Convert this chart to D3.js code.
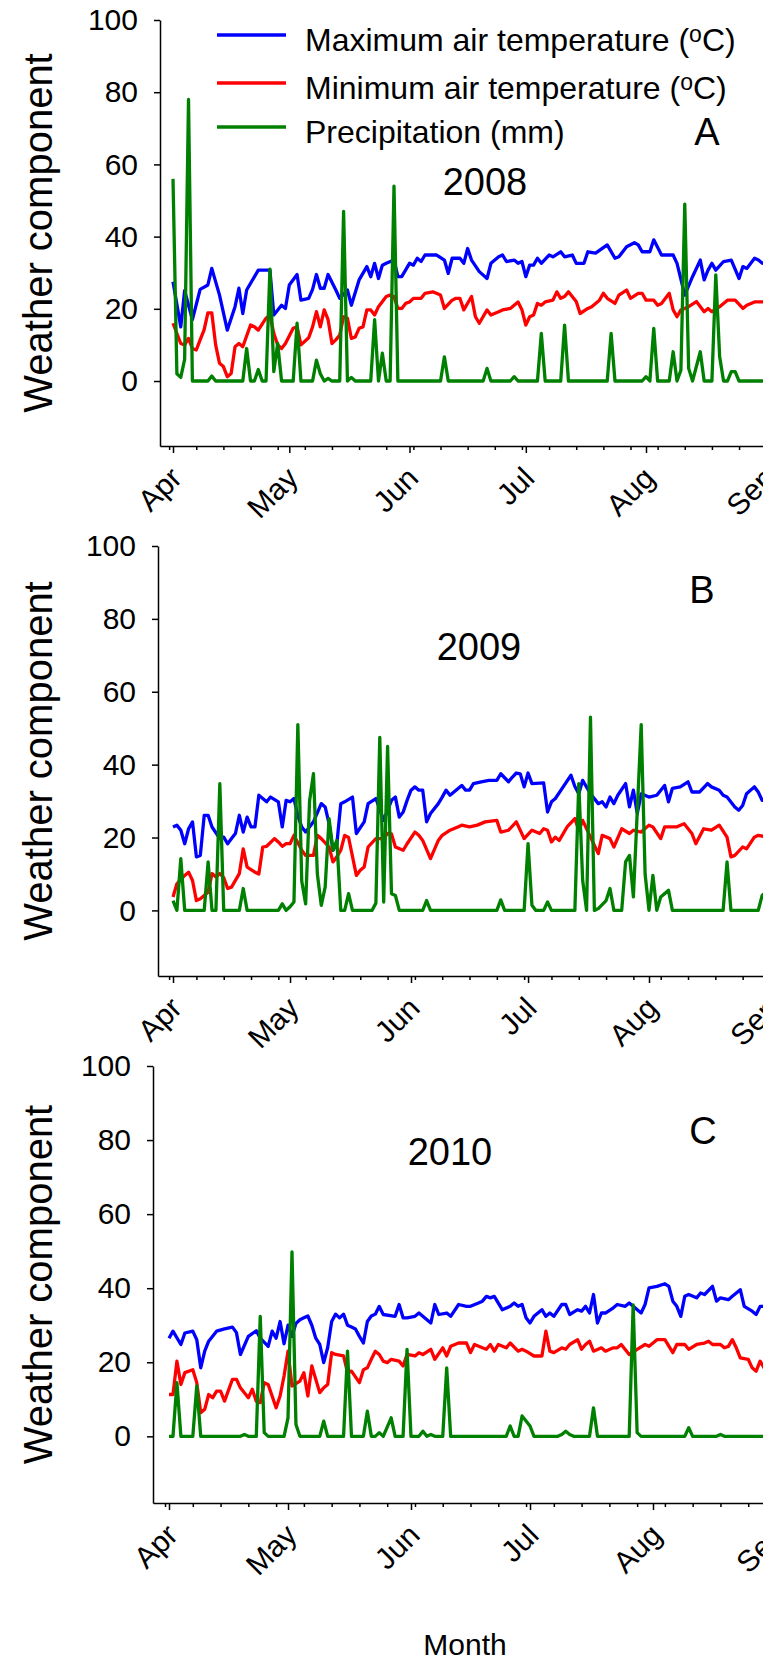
<!DOCTYPE html>
<meta charset="utf-8">
<head>
<script src="https://cdn.jsdelivr.net/npm/d3@7"></script>
<style>
  body { margin: 0; background: #fff; }
  svg { display: block; font-family: "Liberation Sans", Arial, sans-serif; }
  .axis path, .axis line { stroke: #000; stroke-width: 1.5; }
  .axis text { fill: #000; font-size: 30px; }
  .series { fill: none; stroke-width: 3.3; stroke-linejoin: round; }
</style>
</head>
<body>
<div id="chart"></div>
<script>
// values are [day after 1 April, value]
const max2008 = [[0,27.5],[2,15],[3,25],[5,17],[7,25.4],[9,26.6],[10,31.2],[12,23.8],[14,14.1],[16,20.6],[17,25.7],[18,18.7],[19,25.2],[22,30.7],[25,30.7],[26,18.3],[28,21],[29,20.1],[30,26.6],[32,29.5],[33,22.4],[35,22.9],[36,25.4],[37,29.5],[38,25.7],[39,25.7],[40,29.5],[42,25.2],[43,22.9],[45,25.2],[46,21],[48,28],[50,31.7],[51,28.9],[52,32.6],[53,28.4],[54,32.1],[55,32.6],[57,33.5],[58,28.9],[59,28.9],[61,32.6],[62,32.1],[63,34],[64,33.1],[65,34.9],[68,34.9],[70,33.5],[71,29.8],[72,34],[74,34],[75,32.6],[76,36.7],[77,33.5],[79,30.3],[81,28.4],[82,32.6],[84,34.4],[85,34.9],[86,33.1],[88,33.5],[89,32.6],[90,33.1],[91,28.9],[92,32.1],[93,32.1],[94,34],[95,32.6],[97,34.9],[98,34.4],[100,35.8],[101,34.4],[103,34.9],[104,32.6],[106,32.6],[107,35.8],[109,35.4],[112,37.7],[114,34],[115,34.4],[117,37.2],[119,38.3],[120,37.7],[121,35.8],[123,35.8],[124,39.1],[126,34.9],[129,34.9],[130,32.6],[132,23.8],[134,28.9],[136,33.5],[137,28],[138,30.7],[139,32.6],[140,30.7],[142,33.1],[144,33.5],[146,28.4],[147,31.7],[148,31.2],[150,34],[151,33.5],[152,32.6],[153,33]];
const min2008 = [[0,16],[2,10.4],[3,10],[4,11.8],[5,9],[6,8.6],[7,11.4],[8,14.1],[9,18.9],[10,18.9],[11,10],[12,4.9],[13,4],[14,1.2],[15,2.1],[16,9.5],[17,10.4],[18,9.5],[20,15.5],[21,15],[22,14.1],[24,17.4],[25,18.3],[26,13.2],[27,10],[28,9],[29,10.4],[31,14.6],[32,15],[33,10],[35,12],[36,15],[37,19.2],[38,15],[39,19.7],[40,17],[41,10.4],[42,11.4],[43,12.7],[44,17.8],[45,17.4],[46,11.8],[47,12.2],[48,14.6],[49,15],[50,19.7],[51,19.7],[52,18.3],[53,20.6],[55,23.4],[56,23.8],[57,23.4],[58,20.1],[59,20.1],[60,21.5],[61,21.9],[62,22.9],[64,22.9],[65,24.3],[67,24.7],[69,23.8],[70,20.1],[72,22.4],[73,22.9],[74,22.9],[75,19.7],[77,23.4],[78,17.8],[79,16],[81,19.7],[82,18.3],[84,19.2],[85,19.7],[87,20.1],[89,21.9],[90,19.7],[91,15.5],[92,17.8],[93,18.3],[94,21.5],[95,21],[96,21.9],[98,22.4],[99,24.7],[100,22.9],[101,23.4],[102,24.7],[104,22],[105,18.7],[107,20.1],[108,20.6],[110,22.4],[111,24.3],[112,22.9],[114,21.5],[115,23.8],[117,25.2],[118,22.9],[120,24.3],[121,24.3],[122,22.4],[124,22.4],[125,21],[126,21.5],[128,24.3],[129,19.7],[130,17.8],[131,19.7],[133,20.6],[135,22],[137,19.2],[138,20.1],[139,19.2],[141,20.6],[143,22.4],[145,22.4],[147,20.1],[148,21],[150,21.9],[153,21.9]];
const rain2008 = [[0,56],[1,2],[2,1],[3,6],[4,78],[5,0],[9,0],[10,1.4],[11,0],[18,0],[19,9],[20,0],[21,0],[22,3.2],[23,0],[24,0],[25,31],[26,2.6],[27,10.4],[28,0],[31,0],[32,16],[33,0],[36,0],[37,5.8],[38,2],[39,0],[40,0.7],[41,0],[43,0],[44,47],[45,0],[46,1],[47,0],[51,0],[52,17],[53,0],[54,7.7],[55,0],[56,0],[57,54],[58,0],[69,0],[70,6.7],[71,0],[80,0],[81,3.5],[82,0],[87,0],[88,1.2],[89,0],[94,0],[95,13.2],[96,0],[100,0],[101,15.5],[102,0],[112,0],[113,13.2],[114,0],[121,0],[122,1.2],[123,0],[124,14.6],[125,0],[128,0],[129,8.1],[130,0],[131,3],[132,49],[133,3.5],[134,0],[136,8.1],[137,0],[139,0],[140,29.4],[141,6.7],[142,0],[143,0],[144,2.6],[145,2.6],[146,0],[153,0]];

const max2009 = [[0,22.9],[1,23.4],[2,22],[3,18.3],[4,22.4],[5,24.3],[6,14.7],[7,15.1],[8,26.1],[9,26.1],[10,22.9],[12,19.7],[13,20.1],[14,18.3],[15,19.7],[16,21.1],[17,26.1],[18,21.5],[19,25.6],[20,22.9],[21,22.9],[22,31.6],[24,29.8],[25,31.1],[27,29.8],[28,22.9],[29,30.2],[30,29.8],[31,30.7],[32,26],[33,22.9],[34,21.5],[36,24.3],[38,29.3],[39,28.4],[40,23.8],[41,16.5],[42,18.3],[43,29.3],[44,29.8],[46,31.1],[47,21.1],[49,24.3],[50,29.3],[52,30.7],[54,24.7],[56,30.2],[57,31.1],[58,25.6],[59,27],[60,30.2],[61,33],[62,33.9],[63,33],[64,33],[65,24.3],[66,26.6],[68,29.3],[69,31.1],[70,33],[71,31.6],[74,34.3],[75,33],[76,33],[77,34.8],[79,35.3],[81,35.7],[83,35.7],[84,37.5],[86,35.3],[87,36.6],[88,37.7],[89,37.5],[90,33.9],[91,37.7],[92,34.8],[95,35],[96,27],[97,29.8],[98,30.7],[100,33.9],[102,37.1],[103,34],[104,32],[105,35.7],[107,32],[109,29.3],[110,29.8],[111,28.4],[112,31.1],[113,29.3],[114,31.6],[116,34.8],[117,28.4],[118,33],[119,26.6],[120,32],[122,31.1],[124,31.6],[126,34.3],[127,29.8],[128,33.5],[130,33.9],[132,35.3],[133,32.5],[135,32.5],[137,34.8],[138,33.9],[140,33],[141,31.6],[142,31.1],[144,28.4],[145,27.5],[146,28.8],[147,32],[149,33.9],[150,32.5],[151,30.2],[153,30]];
const min2009 = [[0,3.7],[1,7.3],[3,9.6],[4,10.5],[5,8.2],[6,2.7],[7,3.2],[8,4.1],[9,5],[10,10.1],[11,9.2],[12,10.1],[13,9],[14,6],[15,6.4],[17,10.1],[18,16.9],[19,11.9],[21,10.5],[22,10],[23,17.4],[24,17.6],[26,19.7],[27,18.8],[28,17.6],[29,18.3],[30,18.3],[31,20.6],[33,16.5],[34,15.1],[36,15.1],[37,20.6],[38,19.7],[40,17.4],[41,13.3],[42,14.7],[43,16.5],[44,20.6],[45,20],[47,9.6],[48,11],[49,11.9],[50,17.4],[52,19.7],[54,19.7],[55,21.1],[56,21],[57,17.4],[59,16.5],[60,18.3],[62,21.5],[63,20.6],[64,19.2],[66,14.2],[68,19.2],[69,20.6],[71,22],[73,22.9],[74,23.4],[76,22.9],[78,23.4],[80,24.3],[83,24.7],[84,21.5],[86,22],[88,24.3],[90,19.7],[92,22],[94,21.1],[95,22.4],[96,22],[97,18.8],[98,20.1],[99,19.2],[101,22.9],[103,25.2],[104,22],[105,24.7],[107,20.1],[109,15.6],[110,20.6],[112,19.7],[113,17.4],[115,22.4],[117,21.1],[118,22],[120,21.5],[122,23.4],[123,22.9],[125,19.7],[126,22.9],[129,22.9],[131,23.8],[133,21.1],[134,18.3],[136,22.4],[138,22],[140,23.4],[142,20.1],[143,14.7],[144,15.1],[146,17.4],[147,16.9],[149,20.1],[150,20.6],[153,20]];
const rain2009 = [[0,2.7],[1,0],[2,14.2],[3,0],[8,0],[9,13.3],[10,0],[11,0],[12,34.8],[13,0],[17,0],[18,6],[19,0],[27,0],[28,1.8],[29,0],[30,1],[31,2.3],[32,51],[33,8],[34,1.8],[35,30],[36,37.5],[37,10],[38,1.4],[39,6.4],[40,25.2],[41,16.5],[42,19.2],[43,0],[44,0],[45,4.6],[46,0],[51,0],[52,2],[53,47.5],[54,2.3],[55,45],[56,4.6],[57,4.1],[58,0],[64,0],[65,2.7],[66,0],[83,0],[84,2.9],[85,0],[90,0],[91,18.3],[92,1.4],[93,0],[95,0],[96,2.3],[97,0],[103,0],[104,34.8],[105,8.2],[106,0],[107,53],[108,0],[109,0.5],[111,2.7],[112,6],[113,0],[115,0],[116,13.3],[117,15.1],[118,3.7],[120,51],[121,10],[122,0],[123,9.6],[124,0],[125,3.7],[127,5.5],[128,0],[141,0],[142,13.3],[143,0],[150,0],[151,4.1],[153,6]];

const max2010 = [[0,26.5],[1,28.4],[3,24.8],[4,27.9],[6,28.4],[7,26.1],[8,18.5],[9,23],[10,25.7],[12,28.4],[14,29],[16,29.5],[17,28],[18,22.1],[20,27],[22,28.5],[23,26.5],[25,24.3],[26,28.4],[27,26.5],[28,31],[29,25],[30,30],[31,27],[32,30.5],[33,31.5],[34,32],[35,32.5],[36,30],[37,26.5],[38,24.8],[39,19.9],[40,24],[41,31],[42,33],[43,32],[44,33],[45,30],[46,29.5],[47,29],[48,27],[49,25.2],[50,31],[51,32.5],[52,33],[53,35.1],[54,32.9],[57,32.4],[58,35.6],[59,32],[60,32],[62,32.4],[63,33.3],[66,30.6],[67,35.6],[68,32.9],[70,33.3],[71,32.4],[73,35.6],[75,35.1],[76,35.1],[78,36],[79,36.5],[80,37.8],[81,37.4],[82,37.8],[84,34.2],[86,35.1],[87,36],[88,35.1],[89,35.6],[90,32],[91,30.6],[92,32.4],[94,34.2],[95,32.4],[96,33.3],[97,32.4],[99,35.6],[100,35.6],[101,32.9],[103,34.2],[104,33.8],[105,35.1],[106,33.3],[107,38.3],[108,30.6],[109,33.3],[110,33.3],[112,34.7],[113,35.6],[115,35.1],[116,36],[117,35.1],[119,33.3],[120,35.6],[121,40.1],[123,40.5],[125,41.2],[126,40.5],[127,36.5],[128,35.1],[129,32.4],[130,37.8],[131,38.3],[133,37.4],[134,38.7],[135,38.3],[137,40.5],[138,36.5],[139,37.4],[141,36.9],[142,37.8],[144,39.6],[145,35.1],[147,33.8],[148,32.9],[149,35.1],[153,35]];
const min2010 = [[0,11.3],[1,11.3],[2,20.3],[3,14],[4,17.2],[6,18],[7,14.5],[8,6.4],[9,7.3],[10,11.3],[11,10.4],[12,12.2],[13,12.2],[14,9.5],[16,15.4],[17,15.4],[18,13.1],[20,10.4],[21,12.7],[22,9.5],[23,9.1],[24,14.5],[25,14],[27,7.7],[28,10.9],[29,16.3],[30,23],[31,13.6],[33,14.9],[34,17.2],[35,10.9],[36,19],[38,11.8],[39,13.1],[40,14],[41,22.6],[42,22.1],[44,21.7],[45,17.2],[46,17.6],[48,14.5],[49,18],[50,18.5],[51,20.8],[52,23],[53,22.1],[54,20.3],[55,19.9],[56,20.8],[58,20.3],[59,19],[60,22.1],[62,21.7],[63,22.6],[64,22.1],[66,23.5],[67,20.8],[69,23.9],[70,21.7],[71,24.3],[73,25.2],[75,25.2],[76,22.6],[77,24.8],[79,23.9],[80,23.5],[81,24.8],[82,23],[83,24.8],[85,23.9],[86,25.2],[88,23],[89,23.5],[90,23],[92,21.7],[94,21.7],[95,28.4],[96,23],[97,22.6],[99,23.9],[100,23.5],[101,24.8],[103,26.1],[104,23.5],[105,24.8],[106,25.7],[107,23],[109,23.9],[110,23],[112,23.9],[113,23.9],[114,24.8],[116,22.1],[118,23.5],[120,24.8],[121,24.3],[122,25.2],[123,26.1],[125,26.1],[127,22.6],[128,24.8],[130,24.8],[131,23.5],[133,24.8],[135,25.2],[136,25.7],[137,24.8],[139,24.8],[140,23.9],[141,24.3],[142,26.1],[143,23.9],[144,21.2],[146,20.8],[147,18.5],[148,17.6],[149,20.3],[150,18.5],[153,19]];
const rain2010 = [[0,0],[1,0],[2,14.5],[3,0],[6,0],[7,13.6],[8,0],[18,0],[19,0.5],[20,0],[22,0],[23,32.4],[24,1],[25,0],[29,0],[30,5],[31,49.8],[32,3.2],[33,0],[38,0],[39,4.1],[40,0],[44,0],[45,23],[46,0],[49,0],[50,6.8],[51,0],[52,0],[53,1],[54,0],[56,5],[57,0],[59,0],[60,23.5],[61,0],[63,0],[64,1.4],[65,0],[66,0.5],[67,0],[69,0],[70,18.5],[71,0],[85,0],[86,2.8],[87,0],[88,0],[89,5.5],[91,2.8],[92,0],[98,0],[99,0.5],[100,1.4],[101,0.5],[102,0],[106,0],[107,7.7],[108,0],[116,0],[117,35.5],[118,1],[119,0],[130,0],[131,2.3],[132,0],[138,0],[139,0.5],[140,0],[153,0]];

const years = [2008, 2009, 2010];
const panelTags = ["A", "B", "C"];
const seriesNames = ["Maximum air temperature", "Minimum air temperature", "Precipitation (mm)"];
const seriesColors = ["#0000ff", "#ff0000", "#008000"];
const yTicks = [0, 20, 40, 60, 80, 100];
const yDomain = [-18, 100];
const panelData = [[max2008, min2008, rain2008], [max2009, min2009, rain2009], [max2010, min2010, rain2010]];

// pixel layout of each panel in the 763 x 1659 figure
const layout = [
  {axisX: 160, xApr: 173, xAug: 646, yTop: 20,   yBot: 446,  yearX: 485, yearY: 195,  tagX: 707, tagY: 145},
  {axisX: 158, xApr: 173, xAug: 649, yTop: 546,  yBot: 976,  yearX: 479, yearY: 660,  tagX: 702, tagY: 603},
  {axisX: 153, xApr: 169, xAug: 653, yTop: 1066, yBot: 1503, yearX: 450, yearY: 1165, tagX: 703, tagY: 1144}
];

const W = 763, H = 1659;
const svg = d3.select("#chart").append("svg").attr("width", W).attr("height", H);

years.forEach((year, i) => {
  const p = layout[i];
  const apr1 = new Date(year, 3, 1), aug1 = new Date(year, 7, 1);
  const base = d3.scaleTime().domain([apr1, aug1]).range([p.xApr, p.xAug]);
  const x = d3.scaleTime().domain([base.invert(p.axisX), base.invert(820)]).range([p.axisX, 820]);
  const y = d3.scaleLinear().domain(yDomain).range([p.yBot, p.yTop]);
  const g = svg.append("g");

  // y axis
  g.append("g").attr("class", "axis")
    .attr("transform", `translate(${p.axisX},0)`)
    .call(d3.axisLeft(y).tickValues(yTicks).tickSize(6).tickSizeOuter(0).tickPadding(16));

  // x axis: weekly minor ticks, then month ticks with labels
  const weeks = d3.range(-1, 160, 7).map(d => d3.timeDay.offset(apr1, d));
  g.append("g").attr("class", "axis")
    .attr("transform", `translate(0,${p.yBot})`)
    .call(d3.axisBottom(x).tickValues(weeks).tickSize(4).tickSizeOuter(0).tickFormat(""));
  const months = d3.timeMonth.range(apr1, new Date(year, 9, 1));
  const xa = g.append("g").attr("class", "axis")
    .attr("transform", `translate(0,${p.yBot})`)
    .call(d3.axisBottom(x).tickValues(months).tickSize(7).tickSizeOuter(0).tickFormat(d3.timeFormat("%b")));
  xa.select(".domain").remove();
  xa.selectAll("text")
    .attr("x", 0).attr("y", 0).attr("dy", null)
    .attr("transform", "translate(10,34) rotate(-45)")
    .style("text-anchor", "end");

  // series
  const line = d3.line()
    .x(d => x(d3.timeDay.offset(apr1, d[0])))
    .y(d => y(d[1]));
  panelData[i].forEach((s, k) => {
    g.append("path").attr("class", "series")
      .attr("d", line(s))
      .attr("stroke", seriesColors[k]);
  });

  // texts
  g.append("text").attr("transform", `translate(52,${(p.yTop + p.yBot) / 2}) rotate(-90)`)
    .attr("text-anchor", "middle").style("font-size", "40px").text("Weather component");
  g.append("text").attr("x", p.yearX).attr("y", p.yearY)
    .attr("text-anchor", "middle").style("font-size", "38px").text(year);
  g.append("text").attr("x", p.tagX).attr("y", p.tagY)
    .attr("text-anchor", "middle").style("font-size", "38px").text(panelTags[i]);
});

// legend (top panel only)
const legendY = [35, 83, 127];
const leg = svg.append("g");
seriesNames.forEach((name, k) => {
  leg.append("line").attr("x1", 217).attr("x2", 286)
    .attr("y1", legendY[k]).attr("y2", legendY[k])
    .attr("stroke", seriesColors[k]).attr("stroke-width", 3.3);
  const t = leg.append("text").attr("x", 305).attr("y", legendY[k] + 16)
    .style("font-size", "32px");
  if (k < 2) {
    t.append("tspan").text(name + " (");
    t.append("tspan").attr("dy", "-0.38em").style("font-size", "23px").text("o");
    t.append("tspan").attr("dy", "0.27em").text("C)");
  } else {
    t.text(name);
  }
});

svg.append("text").attr("x", 465).attr("y", 1655)
  .attr("text-anchor", "middle").style("font-size", "30px").text("Month");
</script>
</body>
